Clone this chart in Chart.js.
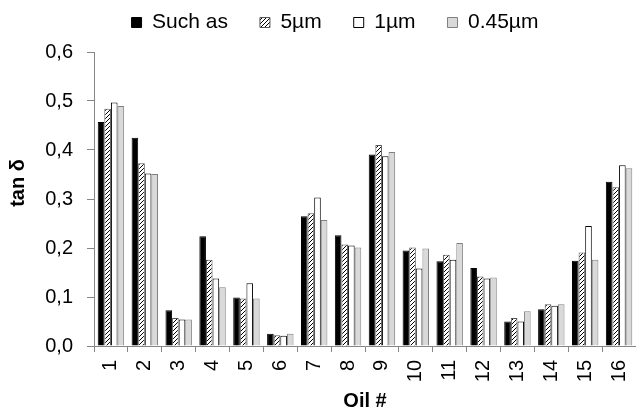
<!DOCTYPE html>
<html>
<head>
<meta charset="utf-8">
<script src="https://cdn.jsdelivr.net/npm/chart.js@4/dist/chart.umd.min.js"></script>
<style>
  html, body { margin: 0; padding: 0; background: #fff; }
  #wrap { width: 636px; height: 410px; }
</style>
</head>
<body>
<div id="wrap"><canvas id="chart" width="636" height="410"></canvas></div>
<script>
// Oil samples and tan delta per filtration level
const oils = ['1', '2', '3', '4', '5', '6', '7', '8', '9', '10', '11', '12', '13', '14', '15', '16'];
const suchAs = [0.457, 0.425, 0.073, 0.224, 0.099, 0.025, 0.265, 0.226, 0.391, 0.195, 0.173, 0.159, 0.050, 0.075, 0.174, 0.335];
const um5 = [0.484, 0.373, 0.057, 0.176, 0.097, 0.022, 0.271, 0.207, 0.410, 0.201, 0.186, 0.142, 0.057, 0.085, 0.191, 0.324];
const um1 = [0.497, 0.352, 0.054, 0.138, 0.128, 0.021, 0.303, 0.205, 0.387, 0.158, 0.176, 0.138, 0.050, 0.082, 0.245, 0.369];
const um045 = [0.490, 0.351, 0.054, 0.120, 0.097, 0.025, 0.257, 0.201, 0.396, 0.199, 0.210, 0.140, 0.071, 0.085, 0.176, 0.363];
const yTicks = [0, 0.1, 0.2, 0.3, 0.4, 0.5, 0.6];
const yTitle = 'tan δ';

const FONT = 'Liberation Sans, Arial, sans-serif';
const AXIS_GRAY = '#868686';

/**
 * Diagonal hatch pattern for the 5µm series
 */
function makeHatch() {
  const c = document.createElement('canvas');
  c.width = 4;
  c.height = 4;
  const g = c.getContext('2d');
  g.fillStyle = '#fff';
  g.fillRect(0, 0, 4, 4);
  g.strokeStyle = '#000';
  g.lineWidth = 1;
  g.beginPath();
  g.moveTo(0, 4);
  g.lineTo(4, 0);
  g.moveTo(-1, 1);
  g.lineTo(1, -1);
  g.moveTo(3, 5);
  g.lineTo(5, 3);
  g.stroke();
  return g.createPattern(c, 'repeat');
}

const hatch = makeHatch();

// nudge the legend row to where the original sits
const legendShift = {
  id: 'legendShift',
  afterLayout(chart) {
    const lg = chart.legend;
    if (!lg) return;
    lg.left += 17;
    lg.right += 17;
    lg.top -= 20;
    lg.bottom -= 20;
  },
};

// y axis title sits a bit above the middle of the plot in the original
const yTitlePlugin = {
  id: 'yTitlePlugin',
  afterDraw(chart) {
    const { ctx, chartArea } = chart;
    const mid = (chartArea.top + chartArea.bottom) / 2 - 16;
    ctx.save();
    ctx.translate(18, mid);
    ctx.rotate(-Math.PI / 2);
    ctx.font = 'bold 20px ' + FONT;
    ctx.fillStyle = '#000';
    ctx.textAlign = 'center';
    ctx.textBaseline = 'middle';
    ctx.fillText(yTitle, 0, 0);
    ctx.restore();
  },
};

const chartData = {
  labels: oils,
  datasets: [
    { label: 'Such as', data: suchAs, backgroundColor: '#000', borderColor: '#000', borderWidth: 1 },
    { label: '5µm', data: um5, backgroundColor: hatch, borderColor: '#555', borderWidth: 1 },
    { label: '1µm', data: um1, backgroundColor: '#fff', borderColor: '#000', borderWidth: 1 },
    { label: '0.45µm', data: um045, backgroundColor: '#d9d9d9', borderColor: '#808080', borderWidth: 1 },
  ],
};

const config = {
  type: 'bar',
  data: chartData,
  plugins: [legendShift, yTitlePlugin],
  options: {
    responsive: false,
    animation: false,
    layout: { padding: 0 },
    datasets: {
      bar: { categoryPercentage: 0.78, barPercentage: 1.0 },
    },
    scales: {
      x: {
        afterFit: (axis) => {
          axis.height = 64;
          axis.paddingRight = 0;
          axis.paddingLeft = 0;
        },
        grid: {
          display: true,
          drawOnChartArea: false,
          drawTicks: true,
          tickLength: 6,
          color: AXIS_GRAY,
          offset: true,
        },
        border: { color: AXIS_GRAY, width: 1 },
        ticks: {
          color: '#000',
          font: { family: FONT, size: 20 },
          minRotation: 90,
          maxRotation: 90,
          padding: 8,
          autoSkip: false,
        },
        title: {
          display: true,
          text: 'Oil #',
          color: '#000',
          font: { family: FONT, size: 20, weight: 'bold' },
          padding: { top: 0, bottom: -3 },
        },
      },
      y: {
        min: 0,
        max: 0.6,
        afterBuildTicks: (axis) => {
          axis.ticks = yTicks.map((v) => ({ value: v }));
        },
        afterFit: (axis) => {
          axis.width = 94;
        },
        grid: {
          display: true,
          drawOnChartArea: false,
          drawTicks: true,
          tickLength: 7,
          color: AXIS_GRAY,
        },
        border: { color: AXIS_GRAY, width: 1 },
        ticks: {
          color: '#000',
          font: { family: FONT, size: 20 },
          padding: 14,
          callback: (v) => Number(v).toFixed(1).replace('.', ','),
        },
        title: { display: false },
      },
    },
    plugins: {
      tooltip: { enabled: false },
      legend: {
        display: true,
        position: 'top',
        maxHeight: 52,
        labels: {
          color: '#000',
          font: { family: FONT, size: 21 },
          boxWidth: 10,
          boxHeight: 10,
          padding: 32,
        },
      },
    },
  },
};

new Chart(document.getElementById('chart'), config);
</script>
</body>
</html>
